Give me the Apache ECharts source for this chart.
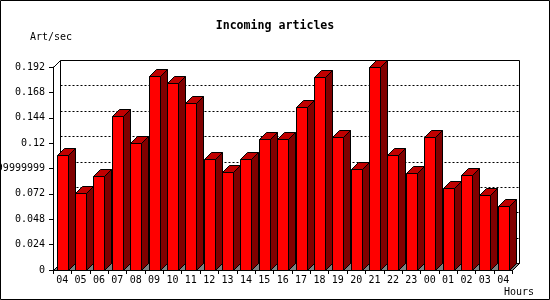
<!DOCTYPE html>
<html>
<head>
<meta charset="utf-8">
<script src="https://cdn.jsdelivr.net/npm/echarts@6/dist/echarts.min.js"></script>
<style>html,body{margin:0;padding:0;background:#fff;}#c{width:550px;height:300px;}</style>
</head>
<body>
<div id="c"></div>
<script>
const hours = ['04','05','06','07','08','09','10','11','12','13','14','15','16','17','18','19','20','21','22','23','00','01','02','03','04'];
const artPerSec = [0.1085,0.0726,0.0886,0.1454,0.1199,0.1832,0.1766,0.1577,0.1047,0.0930,0.1053,0.1236,0.1236,0.1545,0.1823,0.1255,0.0959,0.1918,0.1085,0.0915,0.1255,0.0773,0.0896,0.0707,0.0603];
const yTickValues = [0,0.024,0.048,0.072,0.096,0.12,0.144,0.168,0.192];
const yTickLabels = ['0','0.024','0.048','0.072','0.09599999999999999','0.12','0.144','0.168','0.192'];
const titleText = 'Incoming articles';
const yName = 'Art/sec';
const xName = 'Hours';

const FONT = 'DejaVu Sans Mono';
const DEPTH = 7;
const snap = v => Math.round(v) + 0.5;

const chart = echarts.init(document.getElementById('c'), null, {renderer:'canvas'});

function renderFrame(params, api) {
  const cs = params.coordSys;
  const x = snap(cs.x), y = snap(cs.y), r = snap(cs.x + cs.width), b = snap(cs.y + cs.height);
  const d = DEPTH;
  const children = [];
  children.push({type:'polygon', shape:{points:[[x+d,y-d],[r+d,y-d],[r+d,b-d],[x+d,b-d]]}, style:{fill:'#fff', stroke:'#000', lineWidth:1}});
  children.push({type:'line', shape:{x1:x, y1:y, x2:x+d, y2:y-d}, style:{stroke:'#000', lineWidth:1}});
  for (let i = 1; i < yTickValues.length - 1; i++) {
    const gy = snap(api.coord([0, yTickValues[i]])[1]) - d;
    children.push({type:'line', shape:{x1:x+d, y1:gy, x2:r+d, y2:gy}, style:{stroke:'#000', lineWidth:1, lineDash:[2,2]}});
  }
  children.push({type:'polygon', shape:{points:[[x,b],[x+d,b-d],[r+d,b-d],[r,b]]}, style:{fill:'#808080', stroke:'#000', lineWidth:1}});
  return {type:'group', children};
}

function renderBar(params, api) {
  const p = api.coord([api.value(0), api.value(1)]);
  const base = api.coord([api.value(0), 0]);
  const w = api.size([1, 0])[0] * 0.6;
  const d = DEPTH;
  const x0 = snap(p[0] - w / 2), x1 = x0 + Math.round(w);
  const yt = snap(p[1]), yb = snap(base[1]);
  const st = {stroke:'#000', lineWidth:1};
  return {type:'group', children:[
    {type:'polygon', shape:{points:[[x0,yt],[x1,yt],[x1,yb],[x0,yb]]}, style:Object.assign({fill:'#ff0000'}, st)},
    {type:'polygon', shape:{points:[[x1,yt],[x1+d,yt-d],[x1+d,yb-d],[x1,yb]]}, style:Object.assign({fill:'#800000'}, st)},
    {type:'polygon', shape:{points:[[x0,yt],[x0+d,yt-d],[x1+d,yt-d],[x1,yt]]}, style:Object.assign({fill:'#c00000'}, st)}
  ]};
}

chart.setOption({
  backgroundColor:'#fff',
  animation:false,
  title:{text:titleText, left:'center', top:20, padding:0,
    textStyle:{fontFamily:FONT, fontWeight:'bold', fontSize:11.6, color:'#000'}},
  grid:{left:53, top:67, width:459.4, height:203, containLabel:false, outerBoundsMode:'none'},
  xAxis:{type:'category', data:hours, boundaryGap:true, z:10,
    axisLine:{show:true, lineStyle:{color:'#000', width:1}},
    axisTick:{show:true, length:4, alignWithLabel:false, lineStyle:{color:'#000'}},
    axisLabel:{margin:5, fontFamily:FONT, fontSize:10, color:'#000', interval:0},
    splitLine:{show:false}},
  yAxis:{type:'value', min:0, max:0.192, interval:0.024, z:10,
    axisLine:{show:true, lineStyle:{color:'#000', width:1}},
    axisTick:{show:true, length:4, lineStyle:{color:'#000'}},
    axisLabel:{margin:8, fontFamily:FONT, fontSize:10, color:'#000',
      formatter:(v, i) => yTickLabels[i]},
    splitLine:{show:false}},
  graphic:[
    {type:'rect', shape:{x:0.5, y:0.5, width:549, height:299}, style:{fill:null, stroke:'#000', lineWidth:1}, z:100},
    {type:'text', left:30, top:32, style:{text:yName, font:'10px "DejaVu Sans Mono"', fill:'#000'}},
    {type:'text', left:504, top:287, style:{text:xName, font:'10px "DejaVu Sans Mono"', fill:'#000'}}
  ],
  series:[
    {type:'custom', name:'frame', renderItem:renderFrame, data:[[0, 0]], z:1, silent:true, clip:false},
    {type:'custom', name:'Incoming articles', renderItem:renderBar, z:2,
      data:artPerSec.map((v, i) => [i, v]), clip:false}
  ]
});
</script>
</body>
</html>
